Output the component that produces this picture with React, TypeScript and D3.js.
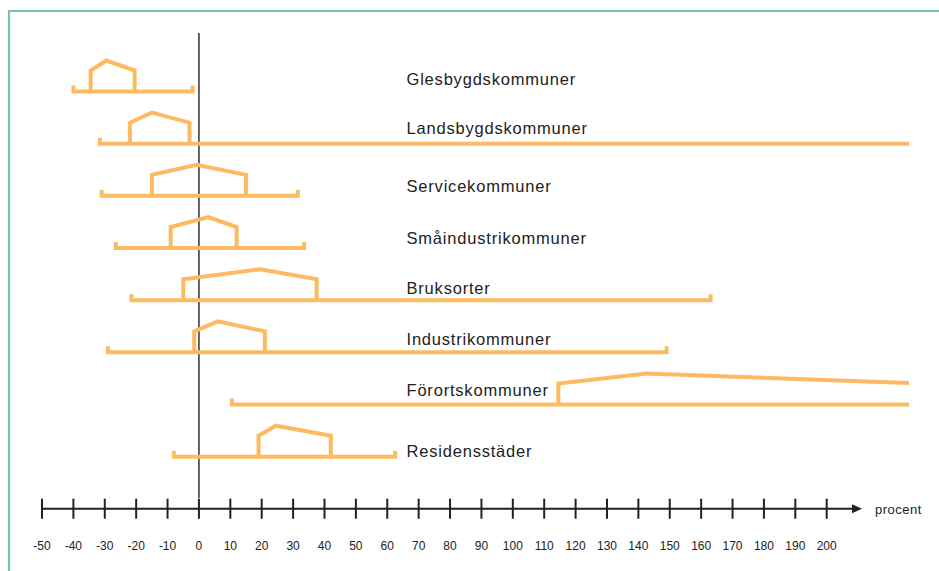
import React from "react";
import * as d3 from "d3";

// kommungrupper, befolkningsförändring i procent
const CATEGORIES = [
  "Glesbygdskommuner",
  "Landsbygdskommuner",
  "Servicekommuner",
  "Småindustrikommuner",
  "Bruksorter",
  "Industrikommuner",
  "Förortskommuner",
  "Residensstäder",
];
const MIN = [-40, -31.5, -31, -26.5, -21.5, -29, 10.5, -8];
const Q1 = [-34.5, -22, -15, -9, -5, -1.5, 114.5, 19];
const MEDIAN = [-29.5, -15, -0.7, 3, 19.5, 6, 142.5, 24.5];
const Q3 = [-20.5, -3, 15, 12, 37.5, 21, 230, 42];
const MAX = [-2, 240, 31.5, 33.5, 163, 149, 240, 62.5];
const TICKS = d3.range(-50, 201, 10);

const W = 939;
const H = 571;
const ORANGE = "#fdba62";
const INK = "#222";
// small per-row nudges of the labels
const LABEL_DY = [-6.5, -9.6, -3.6, -4, -6.6, -7.3, -8.5, 0.6];

export default function App() {
  const x = d3.scaleLinear().domain([-50, 200]).range([42, 826.7]);
  const y = d3.scalePoint().domain(CATEGORIES).range([91.5, 456.7]);
  const line = d3.line<[number, number]>();
  const axisY = 508.7;

  return (
    <svg
      width={W}
      height={H}
      style={{ position: "absolute", left: 0, top: 0, fontFamily: "'Liberation Sans', Arial, sans-serif" }}
    >
      <defs>
        <clipPath id="plotClip">
          <rect x={0} y={0} width={909} height={H} />
        </clipPath>
      </defs>
      {/* frame */}
      <path d={`M9,${H} L9,11 L${W},11`} fill="none" stroke="#78c2b6" strokeWidth={2.2} />

      {/* zero line */}
      <line x1={x(0)} x2={x(0)} y1={33} y2={498} stroke={INK} strokeWidth={1.4} />

      <g clipPath="url(#plotClip)">
        {CATEGORIES.map((c, i) => {
          const y0 = y(c) as number;
          const whisker = line([
            [x(MIN[i]), y0 - 6],
            [x(MIN[i]), y0],
            [x(MAX[i]), y0],
            [x(MAX[i]), y0 - 6],
          ]);
          const house = line([
            [x(Q1[i]), y0],
            [x(Q1[i]), y0 - 21],
            [x(MEDIAN[i]), y0 - 31],
            [x(Q3[i]), y0 - 21],
            [x(Q3[i]), y0],
          ]);
          return (
            <g key={c}>
              <path d={whisker!} fill="none" stroke={ORANGE} strokeWidth={4} strokeLinejoin="miter" />
              <path d={house!} fill="none" stroke={ORANGE} strokeWidth={4} strokeLinejoin="miter" />
            </g>
          );
        })}
      </g>

      {CATEGORIES.map((c, i) => (
        <text
          key={c}
          x={406.5}
          y={(y(c) as number) + LABEL_DY[i]}
          fontSize={16.5}
          letterSpacing={0.8}
          fill={INK}
        >
          {c}
        </text>
      ))}

      {/* axis */}
      <line x1={x(-50)} x2={855} y1={axisY} y2={axisY} stroke={INK} strokeWidth={2} />
      <path d={`M852,${axisY - 4.5} L862,${axisY} L852,${axisY + 4.5} Z`} fill={INK} />
      {TICKS.map((t) => (
        <g key={t}>
          <line x1={x(t)} x2={x(t)} y1={axisY - 10} y2={axisY + 10} stroke={INK} strokeWidth={2} />
          <text x={x(t)} y={550} fontSize={12} textAnchor="middle" fill={INK}>
            {t}
          </text>
        </g>
      ))}
      <text x={875} y={513.5} fontSize={13} letterSpacing={0.5} fill={INK}>
        procent
      </text>
    </svg>
  );
}
